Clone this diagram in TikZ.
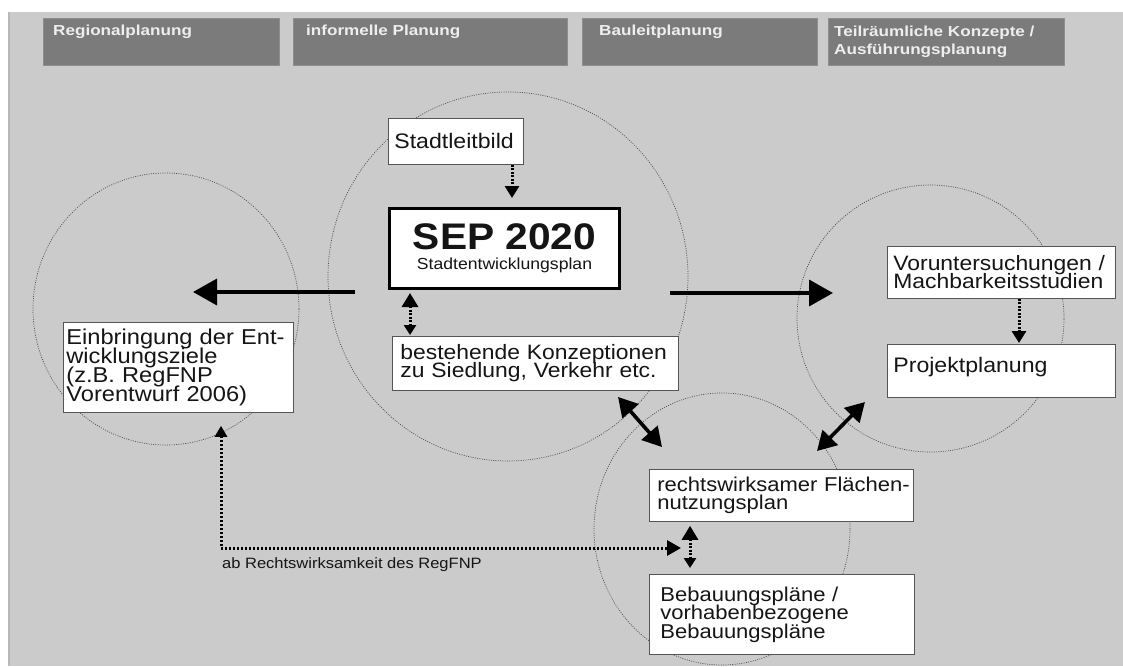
\documentclass[tikz,border=0pt]{standalone}
\usepackage{fontspec}
\setmainfont{Liberation Sans}
\newfontfamily\bodyf[FakeStretch=1.1]{Liberation Sans}
\newfontfamily\headf[FakeStretch=1.18]{Liberation Sans}
\usetikzlibrary{arrows.meta,calc}
\definecolor{panelgray}{HTML}{CBCBCB}
\definecolor{paneledge}{HTML}{B8B8B8}
\definecolor{hdrfill}{HTML}{7B7B7B}
\definecolor{hdrline}{HTML}{8E8E8E}
\definecolor{hdrtext}{HTML}{EEEEEE}
\definecolor{circline}{HTML}{505050}
\definecolor{boxline}{HTML}{555555}
\definecolor{inktext}{HTML}{151515}
\newcommand{\tightlines}{\lineskiplimit=-40pt\lineskip=0pt\relax}
\begin{document}
\begin{tikzpicture}[x=1pt,y=-1pt,
  hdrbox/.style={draw=hdrline, line width=0.6pt, fill=hdrfill, anchor=north west, inner sep=0pt, minimum height=47pt},
  hdrlabel/.style={anchor=base west, inner sep=0pt, text=hdrtext, font=\headf\bfseries\fontsize{14.5}{18}\selectfont\tightlines, align=left},
  circ/.style={draw=circline, line width=0.7pt, dash pattern=on 1pt off 1.3pt},
  box/.style={draw=boxline, line width=0.8pt, fill=white, anchor=north west, align=left, inner ysep=0pt, text=inktext, font=\bodyf\fontsize{21}{18.5}\selectfont\tightlines},
  sepbox/.style={draw=black, line width=3pt, fill=white, anchor=north west, align=center, inner sep=0pt, text=inktext, font=\bodyf\fontsize{16}{20}\selectfont\tightlines},
  thickarr/.style={line width=3.6pt, -{Triangle[length=24pt,width=26pt]}},
  dblthick/.style={line width=3.6pt, {Triangle[length=19pt,width=21pt]}-{Triangle[length=19pt,width=21pt]}},
  dotarr/.style={line width=3pt, dash pattern=on 2pt off 1.5pt, -{Triangle[length=12pt,width=14pt]}},
  dotdbl/.style={line width=3pt, dash pattern=on 2pt off 1.5pt, {Triangle[length=14pt,width=16pt]}-{Triangle[length=10pt,width=12pt]}},
  elbow/.style={line width=3pt, dash pattern=on 2.2pt off 1.8pt, {Triangle[length=11pt,width=12pt]}-{Triangle[length=14pt,width=15pt]}}
]
\useasboundingbox (0,0) rectangle (1123,666);
\fill[white] (0,0) rectangle (1123,666);
% panel
\fill[panelgray] (8,12) rectangle (1123,666);
\draw[paneledge, line width=2pt] (9,12) -- (9,666);

% header
\node[hdrbox, minimum width=236pt] (h1) at (43,18) {};
\node[hdrbox, minimum width=274pt] (h2) at (293,18) {};
\node[hdrbox, minimum width=235pt] (h3) at (582,18) {};
\node[hdrbox, minimum width=236pt] (h4) at (828,18) {};
\node[hdrlabel] (h1t) at (53,36) {Regionalplanung};
\node[hdrlabel] (h2t) at (306,36) {informelle Planung};
\node[hdrlabel] (h3t) at (599,36) {Bauleitplanung};
\node[hdrlabel] (h4t) at (834,55) {Teilräumliche Konzepte /\\Ausführungsplanung};

% circles
\draw[circ] (166,309) ellipse [x radius=133pt, y radius=136pt];
\draw[circ] (508,276.5) ellipse [x radius=180pt, y radius=184.5pt];
\draw[circ] (930.5,318.5) ellipse [x radius=133.5pt, y radius=133.5pt];
\draw[circ] (722,529) ellipse [x radius=128pt, y radius=136pt];

% boxes
\node[box, minimum width=135pt, minimum height=46pt, text width=123pt, inner xsep=6pt] (stadt) at (388,118) {Stadtleitbild};
\node[sepbox, minimum width=230pt, minimum height=80pt] (sep) at (388,207) {{\fontsize{37}{37}\selectfont\bfseries SEP 2020}\\Stadtentwicklungsplan};
\node[box, minimum width=286pt, minimum height=54pt, text width=270pt, inner xsep=8pt, font=\bodyf\fontsize{20.8}{18.3}\selectfont\tightlines] (best) at (392,336) {\mbox{bestehende Konzeptionen}\\\mbox{zu Siedlung, Verkehr etc.}};
\node[box, minimum width=230pt, minimum height=90pt, text width=224pt, inner xsep=3pt, font=\bodyf\fontsize{21.5}{19}\selectfont\tightlines] (einb) at (63,322) {\mbox{Einbringung der Ent-}\\wicklungsziele\\\mbox{(z.B. RegFNP}\\\mbox{Vorentwurf 2006)}};
\node[box, minimum width=228pt, minimum height=52pt, text width=216pt, inner xsep=6pt, font=\bodyf\fontsize{20.8}{18}\selectfont\tightlines] (vor) at (887,246) {\mbox{Voruntersuchungen /}\\Machbarkeitsstudien};
\node[box, minimum width=228pt, minimum height=53pt, text width=216pt, inner xsep=6pt, text depth=12.4pt] (proj) at (887,344) {Projektplanung};
\node[box, minimum width=264pt, minimum height=52pt, text width=248pt, inner xsep=8pt, font=\bodyf\fontsize{20}{18.5}\selectfont\tightlines] (rechts) at (649,469) {\mbox{rechtswirksamer Flächen-}\\nutzungsplan};
\node[box, minimum width=265pt, minimum height=80pt, text width=243pt, inner xsep=11pt, font=\bodyf\fontsize{20}{18.5}\selectfont\tightlines] (bebau) at (649,574) {\mbox{Bebauungspläne /}\\vorhabenbezogene\\Bebauungspläne};

% free ends
\coordinate (aL1) at (355,292);
\coordinate (aL2) at (193,292);
\coordinate (aR1) at (670,293);
\coordinate (aR2) at (833,293);
\coordinate (d1a) at (618,397);
\coordinate (d1b) at (662,447);
\coordinate (d2a) at (817,451);
\coordinate (d2b) at (865,402);
\coordinate (elbowEnd) at (681,548);

% connectors
\draw[thickarr] (aL1) -- (aL2);
\draw[thickarr] (aR1) -- (aR2);
\draw[dblthick] (d1a) -- (d1b);
\draw[dblthick] (d2a) -- (d2b);
\draw[dotarr, shorten >=9pt] ([xshift=124pt]stadt.south west) -- ([xshift=124pt]sep.north west);
\draw[dotdbl, shorten <=3pt, shorten >=1pt] ([xshift=22pt]sep.south west) -- ([xshift=18pt]best.north west);
\draw[dotarr, shorten >=1pt] ([xshift=132pt]vor.south west) -- ([xshift=132pt]proj.north west);
\draw[dotdbl, shorten <=4pt, shorten >=6pt] ([xshift=41pt]rechts.south west) -- ([xshift=41pt]bebau.north west);
\draw[elbow, shorten <=13pt] ([xshift=158pt]einb.south west) |- (elbowEnd);

\node[anchor=base west, inner sep=0pt, text=inktext, font=\bodyf\fontsize{15}{18}\selectfont] (lab) at (222,568) {ab Rechtswirksamkeit des RegFNP};
\end{tikzpicture}
\end{document}
